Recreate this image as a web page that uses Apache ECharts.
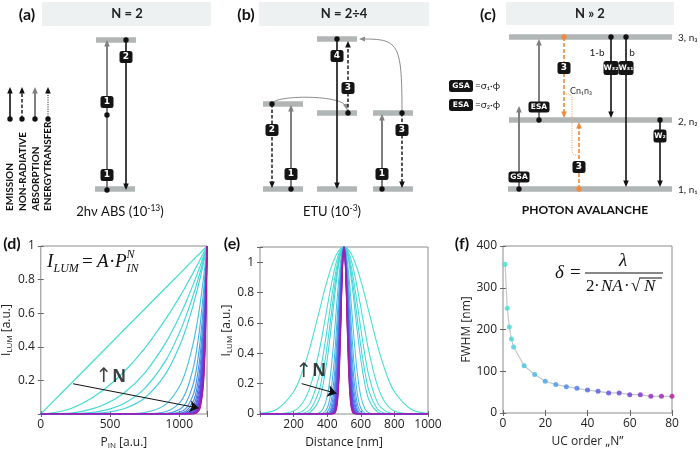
<!DOCTYPE html>
<html><head><meta charset="utf-8">
<script src="https://cdn.jsdelivr.net/npm/echarts@6/dist/echarts.min.js"></script>
<style>html,body{margin:0;padding:0;background:#fff}#c{width:700px;height:453px}</style>
</head><body><div id="c"></div>
<script>
// ================= DATA =================
// UC orders used for every curve / point (panels d, e, f)
const ucOrders = [1,2,3,4,5,10,15,20,25,30,35,40,45,50,55,60,65,70,75,80];

// (d) normalised luminescence vs. excitation power, one row per UC order
const pinValues = [0,150,300,450,600,750,900,1000,1050,1100,1125,1150,1175,1190,1200];
const lumCurves = [
  [0,.125,.25,.375,.5,.625,.75,.833,.875,.917,.938,.958,.979,.992,1],
  [0,.016,.063,.141,.25,.391,.563,.694,.766,.840,.879,.918,.959,.983,1],
  [0,.002,.016,.053,.125,.244,.422,.579,.670,.770,.824,.880,.939,.975,1],
  [0,0,.004,.020,.063,.153,.316,.482,.586,.706,.772,.843,.919,.967,1],
  [0,0,.001,.007,.031,.095,.237,.402,.513,.647,.724,.808,.900,.959,1],
  [0,0,0,0,.001,.009,.056,.162,.263,.419,.525,.653,.810,.920,1],
  [0,0,0,0,0,.001,.013,.065,.135,.271,.380,.528,.729,.882,1],
  [0,0,0,0,0,0,.003,.026,.069,.176,.275,.427,.656,.846,1],
  [0,0,0,0,0,0,.001,.010,.035,.114,.199,.345,.590,.811,1],
  [0,0,0,0,0,0,0,.004,.018,.074,.144,.279,.531,.778,1],
  [0,0,0,0,0,0,0,.002,.009,.048,.105,.225,.478,.746,1],
  [0,0,0,0,0,0,0,.001,.005,.031,.076,.182,.430,.716,1],
  [0,0,0,0,0,0,0,0,.002,.020,.055,.147,.387,.686,1],
  [0,0,0,0,0,0,0,0,.001,.013,.040,.119,.348,.658,1],
  [0,0,0,0,0,0,0,0,.001,.008,.029,.096,.313,.631,1],
  [0,0,0,0,0,0,0,0,0,.005,.021,.078,.282,.605,1],
  [0,0,0,0,0,0,0,0,0,.003,.015,.063,.254,.580,1],
  [0,0,0,0,0,0,0,0,0,.002,.011,.051,.228,.557,1],
  [0,0,0,0,0,0,0,0,0,.001,.008,.041,.206,.534,1],
  [0,0,0,0,0,0,0,0,0,.001,.006,.033,.185,.512,1]
];

// (e) spot profiles: value at |distance - centre| for each offset (symmetric about the centre)
const spotCentre = 500;
const spotOffsets = [0,10,20,30,40,50,60,80,100,125,150,200,250,300,400,500];
const spotProfiles = [
  [1.1,1.098,1.090,1.078,1.061,1.040,1.015,.953,.879,.776,.665,.449,.272,.147,.031,.004],
  [1.1,1.095,1.081,1.057,1.024,.984,.936,.826,.703,.547,.402,.184,.067,.020,.001,0],
  [1.1,1.093,1.071,1.036,.988,.930,.864,.716,.562,.385,.243,.075,.017,.003,0,0],
  [1.1,1.090,1.061,1.015,.953,.879,.797,.620,.449,.272,.147,.031,.004,0,0,0],
  [1.1,1.088,1.052,.995,.920,.832,.735,.538,.359,.192,.089,.013,.001,0,0,0],
  [1.1,1.076,1.006,.899,.769,.629,.491,.263,.117,.033,.007,0,0,0,0,0],
  [1.1,1.064,.962,.813,.643,.475,.329,.128,.038,.006,.001,0,0,0,0,0],
  [1.1,1.052,.920,.735,.538,.359,.220,.063,.013,.001,0,0,0,0,0,0],
  [1.1,1.040,.879,.665,.449,.272,.147,.031,.004,0,0,0,0,0,0,0],
  [1.1,1.029,.841,.601,.376,.205,.098,.015,.001,0,0,0,0,0,0,0],
  [1.1,1.017,.804,.544,.314,.155,.066,.007,0,0,0,0,0,0,0,0],
  [1.1,1.006,.769,.491,.263,.117,.044,.004,0,0,0,0,0,0,0,0],
  [1.1,.995,.735,.444,.220,.089,.029,.002,0,0,0,0,0,0,0,0],
  [1.1,.984,.703,.402,.184,.067,.020,.001,0,0,0,0,0,0,0,0],
  [1.1,.973,.672,.363,.154,.051,.013,0,0,0,0,0,0,0,0,0],
  [1.1,.962,.643,.329,.128,.038,.009,0,0,0,0,0,0,0,0,0],
  [1.1,.951,.615,.297,.107,.029,.006,0,0,0,0,0,0,0,0,0],
  [1.1,.940,.588,.269,.090,.022,.004,0,0,0,0,0,0,0,0,0],
  [1.1,.930,.562,.243,.075,.017,.003,0,0,0,0,0,0,0,0,0],
  [1.1,.920,.538,.220,.063,.013,.002,0,0,0,0,0,0,0,0,0]
];

// (f) FWHM vs UC order
const fwhmValues = [356,251,206,177,158,113,92,76,68,63,59,55,52,48,48,44,44,40,40,40];

// tick labels
const dTicksX = [0,500,1000], dTicksY = [0.2,0.4,0.6,0.8,1];
const eTicksX = [200,400,600,800,1000], eTicksY = [0,0.2,0.4,0.6,0.8,1];
const fTicksX = [0,20,40,60,80], fTicksY = [0,100,200,300,400];

// "increasing N" arrows and their labels (data coordinates of each plot)
const dArrow = [[233,0.18],[1140,0.035]], dArrowLabel = [505,0.22];
const eArrow = [[248,0.2],[456,0.135]], eArrowLabel = [303,0.28];

// ================= SCHEMATICS (a)-(c), figure units 0..700 x 0..453, y downwards =================
const headerBands = [[42,2,211,26],[259,2,429,26],[506,2,674,25]];
const energyLevels = [ // x1, x2, y
  [96,136,40],[95,135,189],
  [263,303,189],[317,357,189],[373,413,189],
  [263,303,104],[317,357,113],[373,413,113],[317,357,39],
  [509,672,37],[509,672,120],[508,672,189]
];
// x, yFrom, yTo, kind (0 emission, 1 non-radiative, 2 absorption, 3 energy transfer, 4 avalanche), startDot, head
const transitions = [
  [10,119,87,0,1,1],[22,119,87,1,1,1],[35,119,87,2,1,1],[48,119,87,3,1,1],
  [107,190,40,2,1,1],[126,40,190,0,1,1],
  [291,189,105,2,1,1],[272,104,188,1,1,1],[337,39,189,0,1,1],[348,113,41,1,1,1],
  [382,189,114,2,1,1],[402,113,188,1,1,1],
  [519,189,106,2,1,1],[539,120,39,2,1,1],[564,37,118,4,1,1],[579,189,122,4,1,1],
  [611,37,118,0,1,1],[626,37,187,0,1,1],[660,120,187,0,1,1]
];
const extraDots = [[107,115]];
// energy-transfer curves: x0,y0, c1x,c1y, c2x,c2y, x1,y1
const etCurves = [[272,104,272,95,343,94,347,110],[402,111,402,42,398,39,359,39]];
const crossPath = [[566,94],[570,94],[572,97],[572,152],[574,155],[578,155]];
// label boxes: x, y, w, h, text
const boxes = [
  [107,175,13,12,'1'],[107,102,13,12,'1'],[126,57,13,12,'2'],
  [291,174,13,12,'1'],[272,130,13,12,'2'],[337,56,13,12,'4'],[348,88,13,12,'3'],
  [382,174,13,12,'1'],[402,130,13,12,'3'],
  [519,177,21,11,'GSA'],[539,107,21,11,'ESA'],[564,68,13,12,'3'],[579,167,13,12,'3'],
  [611,68,15,14,'W₃₂'],[626,68,15,14,'W₃₁'],[660,136,13,13,'W₂'],
  [461,86,24,12,'GSA'],[461,105,24,12,'ESA']
];
// texts: x, y, text (rich markup allowed), style, align, rotation
const texts = [
  [27,15,'(a)','panel','center',0],[246,15,'(b)','panel','center',0],[488,15,'(c)','panel','center',0],
  [127,14,'N = 2','head','center',0],[344,14,'N = 2÷4','head','center',0],[590,14,'N » 2','head','center',0],
  [120,212,'{t|2hν ABS (10}{sup|-13}{t|)}','cap','center',0],[332,212,'{t|ETU (10}{sup|-3}{t|)}','cap','center',0],
  [585,210,'PHOTON AVALANCHE','capB','center',0],
  [10,211,'EMISSION','leg','left',90],[22.5,211,'NON-RADIATIVE','leg','left',90],
  [35.5,211,'ABSORPTION','leg','left',90],[48,211,'ENERGYTRANSFER','leg','left',90],
  [678,38,'3, n₃','small','left',0],[678,122,'2, n₂','small','left',0],[678,190,'1, n₁','small','left',0],
  [597,53,'1-b','small','center',0],[632,53,'b','small','center',0],[570,91,'Cn₁n₃','tiny','left',0],
  [475,86,'=σ₁·ϕ','small','left',0],[475,105,'=σ₂·ϕ','small','left',0],
  [12,244,'(d)','panel','center',0],[232,244,'(e)','panel','center',0],[462,244,'(f)','panel','center',0]
];
// formula pieces: x, y, text, size, italic, align
const mathPieces = [
  [47,262,'I',19,1,'left'],[53.5,268.5,'LUM',12,1,'left'],[82,262,'=',19,0,'left'],[97,262,'A',19,1,'left'],
  [109,262,'·',19,0,'left'],[115,262,'P',19,1,'left'],[126.5,255,'N',12,1,'left'],[126.5,268.5,'IN',12,1,'left'],
  [555,273,'δ',19,1,'left'],[570,273,'=',19,0,'left'],[623,261,'λ',19,1,'center'],
  [586,287,'2',17,0,'left'],[594,287,'·',17,0,'left'],[601,287,'NA',17,1,'left'],[624,287,'·',17,0,'left'],
  [631,287,'√',17,0,'left'],[644,287,'N',17,1,'left']
];
const mathRules = [[585,273,663,273],[640,278,662,278]];

// ================= STYLES =================
const nColors = ['#40e0d0','#40ded2','#41dad5','#42d6d8','#43d2db','#45c4e1','#47b4e5','#48a4e7','#4994e8','#4a84e8',
                 '#4c74e6','#4e64e4','#5356e2','#5b4ae0','#6540dc','#7036d7','#7c2ed1','#8a26c4','#9a20b4','#aa1ca4'];
const FONT_PLOT = "'Open Sans', sans-serif";
const FONT_DIAG = "Lato, 'Open Sans', sans-serif";
const FONT_MATH = "'Liberation Serif', 'DejaVu Serif', serif";
const transitionStyles = [
  {c:'#111', w:1.6, dash:null, dot:'#111'},
  {c:'#111', w:1.4, dash:[3.5,2], dot:'#111'},
  {c:'#7f7f7f', w:2, dash:null, dot:'#111'},
  {c:'#111', w:1, dash:[1,1.3], dot:'#111'},
  {c:'#f08a3c', w:1.6, dash:[4,2], dot:'#f08a3c'}
];
const textStyles = {
  panel:{fontSize:16, fontWeight:'bold', fontFamily:FONT_DIAG, fill:'#111'},
  head:{fontSize:13, fontWeight:'bold', fontFamily:FONT_DIAG, fill:'#222'},
  cap:{fontSize:13, fontWeight:'normal', fontFamily:FONT_DIAG, fill:'#111'},
  capB:{fontSize:12, fontWeight:'bold', fontFamily:FONT_DIAG, fill:'#111'},
  leg:{fontSize:10, fontWeight:'bold', fontFamily:FONT_DIAG, fill:'#111'},
  small:{fontSize:10, fontWeight:'normal', fontFamily:FONT_DIAG, fill:'#222'},
  tiny:{fontSize:9, fontWeight:'normal', fontFamily:FONT_DIAG, fill:'#333'}
};
const capRich = {
  t:{fontSize:13, fontFamily:FONT_DIAG, fill:'#111', lineHeight:16},
  sup:{fontSize:8.5, fontFamily:FONT_DIAG, fill:'#111', lineHeight:9, verticalAlign:'top'}
};

// ================= BUILD =================
function tickFmt(list){
  return v => { const t = list.find(t => Math.abs(t - v) < 1e-6); return t === undefined ? '' : String(t); };
}
function nameStyle(){
  return {color:'#222', fontSize:12, fontFamily:FONT_PLOT,
    rich:{m:{fontSize:12, fontFamily:FONT_PLOT, color:'#222', lineHeight:14},
          s:{fontSize:8, fontFamily:FONT_PLOT, color:'#222', lineHeight:8, verticalAlign:'bottom'}}};
}
const tickStyle = {show:true, inside:true, length:3, lineStyle:{color:'#666', width:1}};
function xAxes(gi, min, max, interval, ticks, name, gap){
  return [
    {type:'value', gridIndex:gi, min, max, interval, position:'bottom', axisLine:{show:false}, splitLine:{show:false},
     axisTick:tickStyle, axisLabel:{margin:5, color:'#222', fontSize:12, fontFamily:FONT_PLOT, formatter:tickFmt(ticks), hideOverlap:false},
     name, nameLocation:'middle', nameGap:gap, nameTextStyle:nameStyle()},
    {type:'value', gridIndex:gi, min, max, interval, position:'top', axisLine:{show:false}, splitLine:{show:false},
     axisTick:tickStyle, axisLabel:{show:false}}
  ];
}
function yAxes(gi, min, max, interval, ticks, name, gap){
  return [
    {type:'value', gridIndex:gi, min, max, interval, position:'left', axisLine:{show:false}, splitLine:{show:false},
     axisTick:tickStyle, axisLabel:{margin:6, color:'#222', fontSize:12, fontFamily:FONT_PLOT, formatter:tickFmt(ticks), hideOverlap:false},
     name, nameLocation:'middle', nameGap:gap, nameTextStyle:nameStyle()},
    {type:'value', gridIndex:gi, min, max, interval, position:'right', axisLine:{show:false}, splitLine:{show:false},
     axisTick:tickStyle, axisLabel:{show:false}}
  ];
}

const series = [];
lumCurves.forEach((ys, i) => series.push({
  type:'line', xAxisIndex:0, yAxisIndex:0, data:pinValues.map((x, j) => [x, ys[j]]),
  symbol:'none', smooth:0.35, lineStyle:{color:nColors[i], width:1.15}, silent:true, z:2
}));
spotProfiles.forEach((ys, i) => {
  const pts = [];
  for (let j = spotOffsets.length - 1; j > 0; j--) pts.push([spotCentre - spotOffsets[j], ys[j]]);
  for (let j = 0; j < spotOffsets.length; j++) pts.push([spotCentre + spotOffsets[j], ys[j]]);
  series.push({type:'line', xAxisIndex:2, yAxisIndex:2, data:pts, symbol:'none', smooth:0.35,
    lineStyle:{color:nColors[i], width:1.05}, silent:true, z:2});
});
series.push({type:'line', xAxisIndex:4, yAxisIndex:4, data:ucOrders.map((n, i) => [n, fwhmValues[i]]),
  symbol:'none', lineStyle:{color:'#c4c8c8', width:1.2}, silent:true, z:2});
series.push({type:'scatter', xAxisIndex:4, yAxisIndex:4, symbolSize:5,
  data:ucOrders.map((n, i) => ({value:[n, fwhmValues[i]], itemStyle:{color:nColors[i]}})), silent:true, z:3});

// increasing-N arrows
[[0, dArrow, dArrowLabel], [2, eArrow, eArrowLabel]].forEach(([ax, arr, lab]) => {
  series.push({type:'lines', coordinateSystem:'cartesian2d', xAxisIndex:ax, yAxisIndex:ax, data:[{coords:arr}],
    symbol:['none','arrow'], symbolSize:[0,9], lineStyle:{color:'#111', width:1, opacity:1}, silent:true, z:6});
  series.push({type:'scatter', xAxisIndex:ax, yAxisIndex:ax, data:[lab], symbolSize:1, itemStyle:{color:'rgba(0,0,0,0)'},
    label:{show:true, position:'inside', formatter:'{a|↑}{b|N}',
      rich:{a:{fontSize:20, fontFamily:"'DejaVu Sans', sans-serif", color:'#111'}, b:{fontSize:17, fontWeight:'bold', fontFamily:FONT_PLOT, color:'#111'}}},
    silent:true, z:7});
});

// ---- schematic overlay series (grid 3) ----
const OV = {coordinateSystem:'cartesian2d', xAxisIndex:6, yAxisIndex:6, silent:true, animation:false};
series.push(Object.assign({type:'custom', z:1, data:headerBands, renderItem:(p, api) => {
  const a = api.coord([api.value(0), api.value(1)]), b = api.coord([api.value(2), api.value(3)]);
  return {type:'rect', shape:{x:a[0], y:a[1], width:b[0]-a[0], height:b[1]-a[1]}, style:{fill:'#eef1f1'}};
}}, OV));
series.push(Object.assign({type:'custom', z:4, data:energyLevels, renderItem:(p, api) => {
  const a = api.coord([api.value(0), api.value(2)]), b = api.coord([api.value(1), api.value(2)]);
  return {type:'rect', shape:{x:a[0], y:a[1]-2.7, width:b[0]-a[0], height:5.4}, style:{fill:'#b0b5b5'}};
}}, OV));
series.push(Object.assign({type:'custom', z:5, data:etCurves, renderItem:(p, api) => {
  const v = [0,1,2,3,4,5,6,7].map(k => api.value(k));
  const s = api.coord([v[0],v[1]]), c1 = api.coord([v[2],v[3]]), c2 = api.coord([v[4],v[5]]), e = api.coord([v[6],v[7]]);
  const dx = e[0]-c2[0], dy = e[1]-c2[1], L = Math.hypot(dx, dy) || 1, ux = dx/L, uy = dy/L;
  return {type:'group', children:[
    {type:'bezierCurve', shape:{x1:s[0], y1:s[1], cpx1:c1[0], cpy1:c1[1], cpx2:c2[0], cpy2:c2[1], x2:e[0]-ux*3, y2:e[1]-uy*3},
     style:{stroke:'#8a8a8a', lineWidth:1, fill:null}},
    {type:'polygon', shape:{points:[[e[0], e[1]], [e[0]-ux*6-uy*2.6, e[1]-uy*6+ux*2.6], [e[0]-ux*6+uy*2.6, e[1]-uy*6-ux*2.6]]},
     style:{fill:'#8a8a8a'}}
  ]};
}}, OV));
series.push(Object.assign({type:'custom', z:5, data:[0], renderItem:(p, api) => ({
  type:'polyline', shape:{points:crossPath.map(q => api.coord(q))},
  style:{stroke:'#f3a66a', lineWidth:1, lineDash:[1.2,1.2], fill:null}
})}, OV));
series.push(Object.assign({type:'custom', z:6, data:transitions, renderItem:(p, api) => {
  const x = api.value(0), y1 = api.value(1), y2 = api.value(2), st = transitionStyles[api.value(3)];
  const dot = api.value(4), head = api.value(5);
  const a = api.coord([x, y1]), b = api.coord([x, y2]);
  const dir = b[1] > a[1] ? 1 : -1, hl = 6.5, hw = 2.8;
  const ls = {stroke:st.c, lineWidth:st.w};
  if (st.dash) ls.lineDash = st.dash;
  const ch = [{type:'line', shape:{x1:a[0], y1:a[1], x2:b[0], y2: head ? b[1]-dir*hl*0.7 : b[1]}, style:ls}];
  if (head) ch.push({type:'polygon', shape:{points:[[b[0], b[1]], [b[0]-hw, b[1]-dir*hl], [b[0]+hw, b[1]-dir*hl]]}, style:{fill:st.c}});
  if (dot) ch.push({type:'circle', shape:{cx:a[0], cy:a[1], r:2.7}, style:{fill:st.dot}});
  return {type:'group', children:ch};
}}, OV));
series.push(Object.assign({type:'custom', z:7, data:extraDots, renderItem:(p, api) => {
  const a = api.coord([api.value(0), api.value(1)]);
  return {type:'circle', shape:{cx:a[0], cy:a[1], r:2.7}, style:{fill:'#111'}};
}}, OV));
series.push(Object.assign({type:'custom', z:8, data:boxes.map(b => b.slice(0,4)), renderItem:(p, api) => {
  const c = api.coord([api.value(0), api.value(1)]), w = api.value(2), h = api.value(3);
  const t = boxes[p.dataIndex][4];
  return {type:'group', children:[
    {type:'rect', shape:{x:c[0]-w/2, y:c[1]-h/2, width:w, height:h, r:2.5}, style:{fill:'#141414'}},
    {type:'text', x:c[0], y:c[1], style:{text:t, fill:'#fff', fontSize: t.length > 1 ? 7.5 : 9, fontWeight:'bold',
      fontFamily:"'DejaVu Sans', sans-serif", align:'center', verticalAlign:'middle'}}
  ]};
}}, OV));
series.push(Object.assign({type:'custom', z:9, data:texts.map(t => [t[0], t[1]]), renderItem:(p, api) => {
  const t = texts[p.dataIndex], c = api.coord([t[0], t[1]]), s = textStyles[t[3]];
  return {type:'text', x:c[0], y:c[1], rotation:t[5] * Math.PI / 180,
    style:{text:t[2], fill:s.fill, fontSize:s.fontSize, fontWeight:s.fontWeight, fontFamily:s.fontFamily,
      align:t[4], verticalAlign:'middle', rich:capRich}};
}}, OV));
series.push(Object.assign({type:'custom', z:9, data:mathPieces.map(t => [t[0], t[1]]), renderItem:(p, api) => {
  const t = mathPieces[p.dataIndex], c = api.coord([t[0], t[1]]);
  return {type:'text', x:c[0], y:c[1], style:{text:t[2], fill:'#111', fontSize:t[3], fontStyle: t[4] ? 'italic' : 'normal',
    fontFamily:FONT_MATH, align:t[5], verticalAlign:'middle'}};
}}, OV));
series.push(Object.assign({type:'custom', z:9, data:mathRules, renderItem:(p, api) => {
  const a = api.coord([api.value(0), api.value(1)]), b = api.coord([api.value(2), api.value(3)]);
  return {type:'line', shape:{x1:a[0], y1:a[1], x2:b[0], y2:b[1]}, style:{stroke:'#111', lineWidth:1}};
}}, OV));

const gridBase = {show:true, borderColor:'#8c8c8c', borderWidth:1, backgroundColor:'#fff'};
const dx = xAxes(0, 0, 1200, 500, dTicksX, '{m|P}{s|IN}{m| [a.u.]}', 22);
const dy = yAxes(0, 0, 1, 0.2, dTicksY, '{m|I}{s|LUM}{m| [a.u.]}', 19);
const ex = xAxes(1, 0, 1000, 200, eTicksX, 'Distance [nm]', 23);
const ey = yAxes(1, 0, 1.1, 0.2, eTicksY, '{m|I}{s|LUM}{m| [a.u.]}', 19);
const fx = xAxes(2, 0, 80, 20, fTicksX, 'UC order „N”', 23);
const fy = yAxes(2, 0, 400, 100, fTicksY, 'FWHM [nm]', 27);

const option = {
  animation:false,
  backgroundColor:'#fff',
  grid:[
    Object.assign({left:39, top:246, width:168, height:168}, gridBase),
    Object.assign({left:260, top:247, width:168, height:167}, gridBase),
    Object.assign({left:503, top:246, width:169, height:167}, gridBase),
    {left:0, top:0, width:700, height:453, show:false}
  ],
  xAxis:[...dx, ...ex, ...fx, {type:'value', gridIndex:3, min:0, max:700, show:false}],
  yAxis:[...dy, ...ey, ...fy, {type:'value', gridIndex:3, min:0, max:453, inverse:true, show:false}],
  series
};
const chart = echarts.init(document.getElementById('c'), null, {renderer:'canvas'});
chart.setOption(option);
</script></body></html>
